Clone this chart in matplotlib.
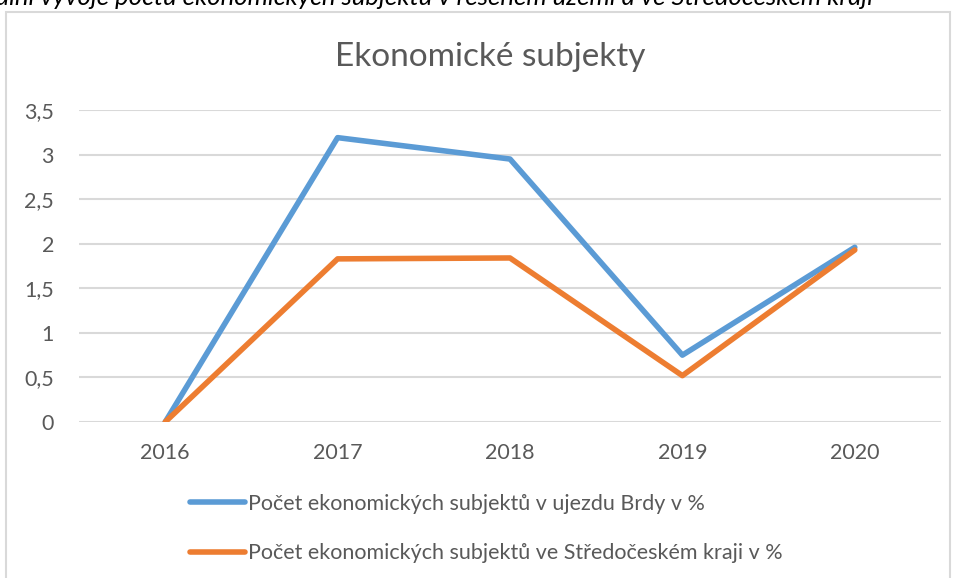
import matplotlib
matplotlib.use("Agg")
import matplotlib.pyplot as plt
from matplotlib.patches import Rectangle

# data
years = ["2016", "2017", "2018", "2019", "2020"]
brdy = [0.0, 3.19, 2.95, 0.75, 1.96]
stredocesky = [0.0, 1.83, 1.84, 0.52, 1.93]
labels = ["Počet ekonomických subjektů v ujezdu Brdy v %",
          "Počet ekonomických subjektů ve Středočeském kraji v %"]
yticks = [0, 0.5, 1, 1.5, 2, 2.5, 3, 3.5]
ytick_labels = ["0", "0,5", "1", "1,5", "2", "2,5", "3", "3,5"]

plt.rcParams['font.family'] = ['Lato', 'DejaVu Sans']
grey = "#595959"

fig = plt.figure(figsize=(9.55, 5.78), dpi=100)

# chart frame (cut off at the bottom, like the screenshot)
fig.patches.append(Rectangle((6/955, -0.05), 944/955, 1.05 - 12/578,
                             transform=fig.transFigure, fill=False,
                             edgecolor="#d9d9d9", linewidth=1.5))

# caption above, cropped at the top
fig.text(-0.004, 1 - 5/578, "ální vývoje počtu ekonomických subjektů v řešeném území a ve Středočeském kraji",
         fontsize=18.5, style="italic", color="black", va="baseline", ha="left")

ax = fig.add_axes([79/955, 1 - 422/578, 862/955, 312/578])
x = range(len(years))
ax.plot(x, brdy, color="#5B9BD5", linewidth=4, solid_capstyle="round", label=labels[0], zorder=3)
ax.plot(x, stredocesky, color="#ED7D31", linewidth=4, solid_capstyle="round", label=labels[1], zorder=3)

ax.set_xlim(-0.5, 4.5)
ax.set_ylim(0, 3.5)
ax.set_xticks(list(x))
ax.set_xticklabels(years)
ax.set_yticks(yticks)
ax.set_yticklabels(ytick_labels)
ax.tick_params(axis="both", length=0, labelsize=15.5, labelcolor=grey)
ax.tick_params(axis="x", pad=15)
ax.tick_params(axis="y", pad=18)
ax.grid(axis="y", color="#d9d9d9", linewidth=1.5)
ax.set_axisbelow(True)
for s in ax.spines.values():
    s.set_visible(False)

fig.text(490/955, 1 - 57/578, "Ekonomické subjekty", fontsize=24, color=grey,
         ha="center", va="center")

fig.legend(loc="upper left", bbox_to_anchor=(190/955, 1 - 494/578),
           frameon=False, fontsize=15.5, labelcolor=grey, handlelength=2.55,
           handletextpad=0.15, labelspacing=1.35, borderpad=0, borderaxespad=0)

fig.savefig("out.png", dpi=100, facecolor="white")
